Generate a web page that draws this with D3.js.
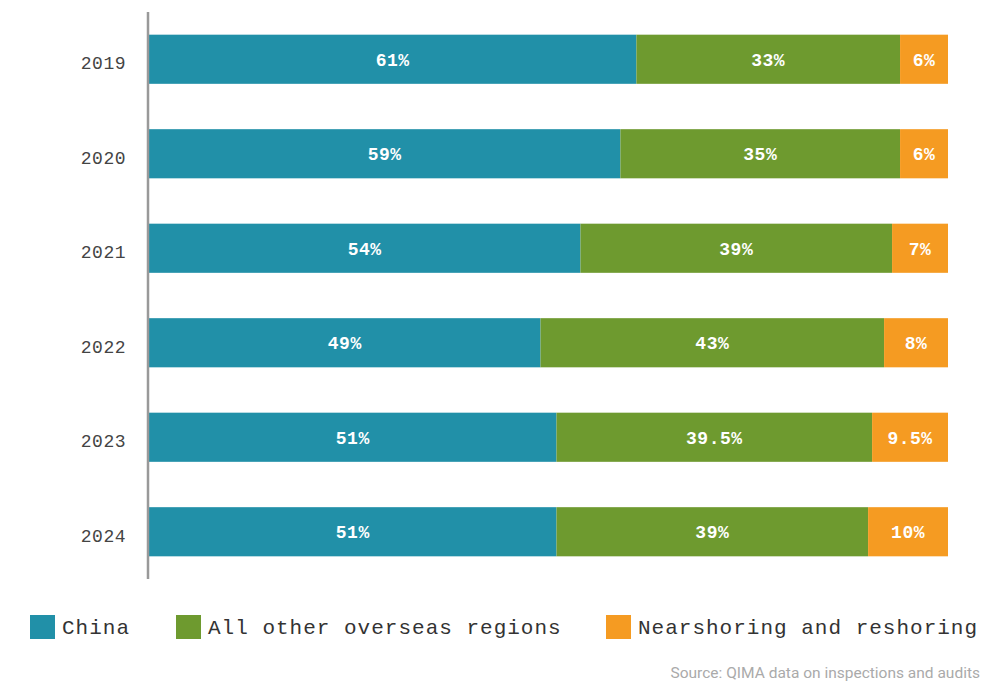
<!DOCTYPE html>
<html>
<head>
<meta charset="utf-8">
<script src="https://cdn.jsdelivr.net/npm/d3@7"></script>
<style>
  body { margin:0; background:#fff; }
  .year text { font-family:"Liberation Mono", monospace; font-size:18px; fill:#444; letter-spacing:0.5px; }
  .lbl { font-family:"Liberation Mono", monospace; font-size:18px; font-weight:bold; fill:#fff; letter-spacing:0.5px; }
  .legend text { font-family:"Liberation Mono", monospace; font-size:21px; fill:#333; letter-spacing:1px; }
  .source { font-family:Roboto, sans-serif; font-size:15.5px; fill:#aaa; }
</style>
</head>
<body>
<div class="chart"></div>
<script>
// 資料
const years = ['2019','2020','2021','2022','2023','2024'];
const china = [61, 59, 54, 49, 51, 51];
const otherOverseas = [33, 35, 39, 43, 39.5, 39];
const nearshoring = [6, 6, 7, 8, 9.5, 10];
const seriesNames = ['China','All other overseas regions','Nearshoring and reshoring'];
const colors = ['#2190a8','#6e9a2f','#f59b22'];

const rows = years.map((y,i)=>({year:y, China:china[i], 'All other overseas regions':otherOverseas[i], 'Nearshoring and reshoring':nearshoring[i]}));

const width = 1000, height = 699;
const svg = d3.select('.chart').append('svg').attr('width',width).attr('height',height);

const xScale = d3.scaleLinear([0,100],[149,948]);
const yScale = d3.scaleBand().domain(years).range([12,579]).paddingInner(0.48).paddingOuter(0.24);

const stack = d3.stack().keys(seriesNames)(rows);

// 長條
const layers = svg.append('g').selectAll('g').data(stack).join('g')
    .attr('fill',(d,i)=>colors[i]);
layers.selectAll('rect').data(d=>d).join('rect')
    .attr('x',d=>xScale(d[0]))
    .attr('y',d=>yScale(d.data.year))
    .attr('width',d=>xScale(d[1])-xScale(d[0]))
    .attr('height',yScale.bandwidth());

// 數值文字
layers.selectAll('text').data(d=>d).join('text')
    .attr('class','lbl')
    .attr('x',d=>(xScale(d[0])+xScale(d[1]))/2)
    .attr('y',d=>yScale(d.data.year)+yScale.bandwidth()/2)
    .attr('text-anchor','middle')
    .attr('dy','0.35em')
    .text(d=>(d[1]-d[0])+'%');

// y軸
const yAxis = d3.axisLeft(yScale).tickSize(0).tickPadding(22);
const yAxisDraw = svg.append('g').attr('class','year')
    .attr('transform','translate(148,0)').call(yAxis);
yAxisDraw.selectAll('text').attr('dy','0.55em');
yAxisDraw.select('.domain').attr('d','M0,12V579').attr('stroke','#999').attr('stroke-width',2.5);

// 圖例
const legendX = [30,176,606];
const legend = svg.append('g').attr('class','legend').selectAll('g').data(seriesNames).join('g')
    .attr('transform',(d,i)=>`translate(${legendX[i]},615)`);
legend.append('rect').attr('width',25).attr('height',24).attr('fill',(d,i)=>colors[i]);
legend.append('text').attr('x',32).attr('y',12).attr('dy','0.35em').text(d=>d);

svg.append('text').attr('class','source')
    .attr('x',980).attr('y',678).attr('text-anchor','end')
    .text('Source: QIMA data on inspections and audits');
</script>
</body>
</html>
